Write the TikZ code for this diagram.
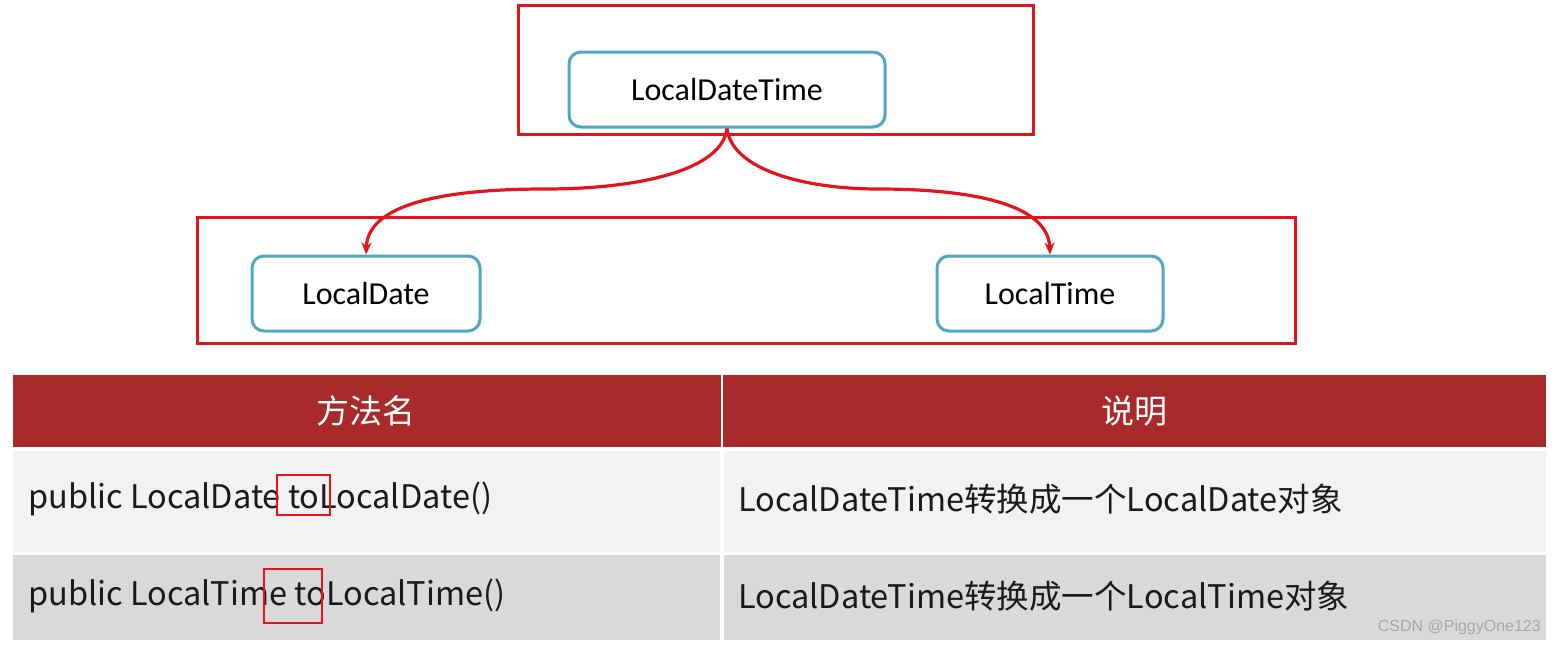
\documentclass[tikz,border=0pt]{standalone}
\usepackage{fontspec}
\newfontfamily\cjk{Noto Sans CJK SC}
\newfontfamily\calib{Carlito}
\newfontfamily\wmfont{Liberation Sans}
\usetikzlibrary{arrows.meta}
\definecolor{frameRed}{HTML}{E3141B}
\definecolor{boxBlue}{HTML}{4FA7C4}
\definecolor{headRed}{HTML}{A82A2A}
\definecolor{rowA}{HTML}{F2F2F2}
\definecolor{rowB}{HTML}{D9D9D9}
\definecolor{txt}{HTML}{1A1A1A}
\tikzset{
  frame/.style={draw=frameRed, line width=3pt},
  classbox/.style={draw=boxBlue, line width=3pt, rounded corners=12pt, fill=white,
    inner sep=0pt, font=\calib\fontsize{32}{38}\selectfont, text=black},
  arr/.style={draw=frameRed, line width=3.2pt, -{Stealth[length=12pt,width=10pt]}},
  celltext/.style={font=\cjk\fontsize{32.5}{38}\selectfont, text=txt, anchor=west, inner sep=0pt},
  headtext/.style={font=\cjk\fontsize{33}{38}\selectfont, text=white, inner sep=0pt},
  hl/.style={draw=frameRed, line width=2.5pt},
}
\begin{document}
\begin{tikzpicture}[x=1pt,y=-1pt]
\useasboundingbox[fill=white] (0,0) rectangle (1555,646);
% top frame and node
\draw[frame] (518,5) rectangle (1033,134);
\node[classbox, minimum width=316pt, minimum height=75pt] (ldt) at (727,89.5) {LocalDateTime};
% bottom frame and nodes
\draw[frame] (197,217) rectangle (1295,343);
\node[classbox, minimum width=228pt, minimum height=75pt] (ld) at (366,293.5) {LocalDate};
\node[classbox, minimum width=226pt, minimum height=75pt] (lt) at (1050,293.5) {LocalTime};
% connectors
\coordinate (lm) at (545,189);
\coordinate (rm) at (878,189);
\draw[arr] (ldt.south) .. controls (722,170) and (640,189) .. (lm) .. controls (440,189) and (368,205) .. (ld.north);
\draw[arr] (ldt.south) .. controls (732,170) and (805,189) .. (rm) .. controls (975,189) and (1048,205) .. (lt.north);
% table
\fill[headRed] (13,375) rectangle (1546,447);
\draw[white, line width=2pt] (722,375) -- (722,447);
\fill[rowA] (13,451) rectangle (720,552);
\fill[rowA] (724,451) rectangle (1546,552);
\fill[rowB] (13,555) rectangle (720,640);
\fill[rowB] (724,555) rectangle (1546,640);
\node[headtext] (h1) at (366,411) {方法名};
\node[headtext] (h2) at (1134,411) {说明};
\node[celltext] (c11) at (28,499) {public LocalDate toLocalDate()};
\node[celltext] (c12) at (738,499) {LocalDateTime转换成一个LocalDate对象};
\node[celltext] (c21) at (28,596) {public LocalTime toLocalTime()};
\node[celltext] (c22) at (738,596) {LocalDateTime转换成一个LocalTime对象};
% highlight boxes
\draw[hl] (277,475) rectangle (330,515);
\draw[hl] (264,569) rectangle (322,623);
% watermark
\node[font=\wmfont\fontsize{16}{18}\selectfont, text=gray!70, anchor=east, inner sep=0pt] (wm) at (1541,627) {CSDN @PiggyOne123};
\end{tikzpicture}
\end{document}
